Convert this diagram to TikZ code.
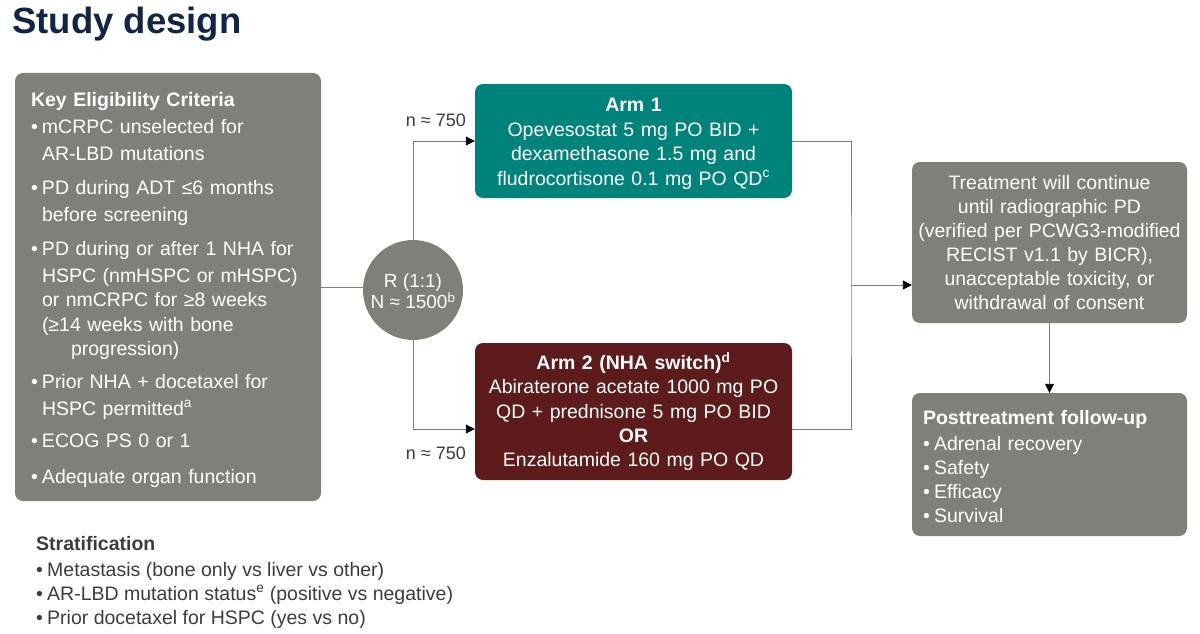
\documentclass[tikz,border=0pt]{standalone}
\usepackage{fontspec}
\setmainfont{Liberation Sans}
\usepackage{xcolor}
\usetikzlibrary{positioning, arrows.meta, calc}
\definecolor{studynavy}{RGB}{17, 38, 71}
\definecolor{boxgray}{RGB}{127, 128, 121}
\definecolor{armteal}{RGB}{0, 131, 122}
\definecolor{armred}{RGB}{94, 27, 27}
\definecolor{linegray}{RGB}{125, 125, 125}
\definecolor{notegray}{RGB}{60, 60, 60}
\newcommand{\bul}{\makebox[11pt][l]{\textbullet}}
\newcommand{\ind}{\hspace*{11pt}}
\newcommand{\topstrut}[1]{\rule{0pt}{#1}}

\begin{document}
\begin{tikzpicture}[x=1pt, y=-1pt,
        box/.style={rectangle, rounded corners=8pt, fill=boxgray, text=white, inner sep=0pt, font=\fontsize{19.5}{24}\selectfont},
        arm/.style={box, align=center, text width=305pt, inner xsep=6pt, minimum width=317pt},
        note/.style={inner sep=0pt, text=notegray, font=\fontsize{19.5}{24}\selectfont},
        link/.style={draw=linegray, line width=0.9pt},
        arrow/.style={link, -{Triangle[length=9pt, width=9pt, color=black]}}
    ]
        \useasboundingbox (0,0) rectangle (1200,634);

        % Title
        \node[anchor=base west, inner sep=0pt, text=studynavy, font=\fontsize{36.5}{40}\selectfont\bfseries] (title) at (12,34) {Study design};

        % Eligibility
        \node[box, text width=274pt, inner xsep=16pt, minimum height=428pt, align=left] (crit) at (168,287) {%
            \topstrut{20pt}\textbf{Key Eligibility Criteria}\\[3pt]
            \bul mCRPC unselected for\\[3pt]
            \ind AR-LBD mutations\\[10pt]
            \bul PD during ADT ≤6 months\\[3pt]
            \ind before screening\\[10pt]
            \bul PD during or after 1 NHA for\\[3pt]
            \ind HSPC (nmHSPC or mHSPC)\\
            \ind or nmCRPC for ≥8 weeks\\[1pt]
            \ind (≥14 weeks with bone\\
            \hspace*{40pt}progression)\\[9pt]
            \bul Prior NHA + docetaxel for\\[3pt]
            \ind HSPC permitted\textsuperscript{a}\\[8pt]
            \bul ECOG PS 0 or 1\\[12pt]
            \bul Adequate organ function};

        % Randomization
        \node[circle, fill=boxgray, text=white, minimum size=100pt, inner sep=0pt, align=center, font=\fontsize{19}{21}\selectfont] (rnd) at (413,290) {\topstrut{17pt}R (1:1)\\N ≈ 1500\textsuperscript{b}};

        % Arms
        \node[arm, fill=armteal, minimum height=114pt, font=\fontsize{19.5}{24.5}\selectfont] (arm1) at (633.5,141) {%
            \topstrut{19pt}\textbf{Arm 1}\\
            Opevesostat 5 mg PO BID +\\
            dexamethasone 1.5 mg and\\
            fludrocortisone 0.1 mg PO QD\textsuperscript{c}};
        \node[arm, fill=armred, minimum height=137pt, font=\fontsize{19.5}{24.25}\selectfont] (arm2) at (633.5,411.5) {%
            \textbf{Arm 2 (NHA switch)\textsuperscript{d}}\\
            Abiraterone acetate 1000 mg PO\\
            QD + prednisone 5 mg PO BID\\
            \textbf{OR}\\
            Enzalutamide 160 mg PO QD};

        % Group sizes
        \node[note, anchor=east, font=\fontsize{18}{20}\selectfont] (ntop) at (466,120) {n ≈ 750};
        \node[note, anchor=east, font=\fontsize{18}{20}\selectfont] (nbot) at (466,453) {n ≈ 750};

        % Treatment and follow-up
        \node[box, align=center, text width=265pt, inner xsep=5pt, minimum height=161pt] (result) at (1049.5,242.5) {%
            Treatment will continue\\
            until radiographic PD\\
            (verified per PCWG3-modified\\
            RECIST v1.1 by BICR),\\
            unacceptable toxicity, or\\
            withdrawal of consent};
        \node[box, align=left, text width=253pt, inner xsep=11pt, minimum height=143pt] (post) at (1049.5,464.5) {%
            \topstrut{18pt}\textbf{Posttreatment follow-up}\\[2pt]
            \bul Adrenal recovery\\
            \bul Safety\\
            \bul Efficacy\\
            \bul Survival};

        % Stratification
        \node[note, anchor=north west, align=left] (strat) at (36,536) {%
            \textbf{Stratification}\\[2pt]
            \bul Metastasis (bone only vs liver vs other)\\
            \bul AR-LBD mutation status\textsuperscript{e} (positive vs negative)\\
            \bul Prior docetaxel for HSPC (yes vs no)};

        % Connectors
        \coordinate (merge) at (851,285);
        \draw[link] (crit.east) -- (crit.east -| rnd.west);
        \draw[arrow] (rnd.north) |- (arm1.west);
        \draw[arrow] (rnd.south) |- ([yshift=-17.5pt]arm2.west);
        \draw[link] (arm1.east) -| (merge) |- ([yshift=-17.5pt]arm2.east);
        \draw[arrow] (merge) -- (merge -| result.west);
        \draw[arrow] (result.south) -- (post.north);
    \end{tikzpicture}
\end{document}
